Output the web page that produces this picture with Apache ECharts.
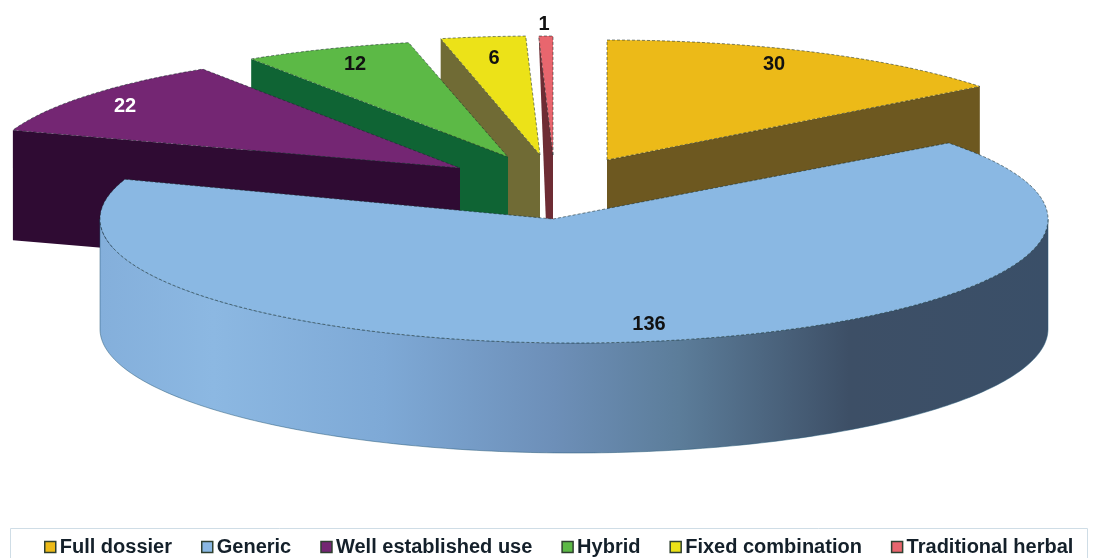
<!DOCTYPE html>
<html><head><meta charset="utf-8">
<style>html,body{margin:0;padding:0;background:#fff}#c{width:1100px;height:558px;filter:blur(0.6px)}</style>
<script src="https://cdn.jsdelivr.net/npm/echarts@6/dist/echarts.min.js"></script>
</head><body><div id="c"></div>
<script>
var categories = ['Full dossier','Generic','Well established use','Hybrid','Fixed combination','Traditional herbal'];
var values = [30,136,22,12,6,1];

var topColors  = ['#ecba18','#8ab8e3','#742673','#5cb946','#ece218','#e8666e'];
var wallColors = ['#6d5820','#5a7da0','#2f0b33','#0f6434','#706b35','#6e2c34'];
var labelColors= ['#111','#111','#fff','#111','#111','#111'];
// exploded position of every slice: centre of its ellipse, tip of the wedge, radii, extrusion
var layout = [
  {cx:607,cy:160,tx:607,ty:160,rx:472,ry:120,depth:110,shift:0,face:'end',  lx:774,ly:64,z:5},
  {cx:574,cy:219,tx:553,ty:219,rx:474,ry:124,depth:110,shift:0,face:'round',lx:649,ly:324,z:6},
  {cx:460,cy:168,tx:460,ty:168,rx:472,ry:118,depth:110,shift:0,face:'start',lx:125,ly:106,z:4},
  {cx:508,cy:157,tx:508,ty:157,rx:471,ry:117,depth:110,shift:0,face:'start',lx:355,ly:64,z:3},
  {cx:540,cy:155,tx:540,ty:155,rx:471,ry:119,depth:110,shift:0,face:'start',lx:494,ly:58,z:2},
  {cx:553,cy:155,tx:553,ty:155,rx:471,ry:119,depth:180,shift:7,face:'start',lx:544,ly:24,z:1}
];

var total = values.reduce(function(a,b){return a+b;},0);
var starts = [], acc = 0;
values.forEach(function(v){ starts.push(acc/total*Math.PI*2); acc += v; });

function pt(l,a,dy){ return [l.cx+l.rx*Math.sin(a), l.cy-l.ry*Math.cos(a)+(dy||0)]; }
function arc(l,a0,a1,dy){
  var n = Math.max(2,Math.ceil(Math.abs(a1-a0)*60)), out=[];
  for(var i=0;i<=n;i++) out.push(pt(l,a0+(a1-a0)*i/n,dy));
  return out;
}
var edge = {stroke:'rgba(20,40,40,0.55)',lineWidth:1,lineDash:[3,2]};

function renderSlice(idx){
  return function(params,api){
    var l = layout[idx], v = api.value(0);
    var a0 = starts[idx], a1 = a0 + v/total*Math.PI*2;
    var kids = [];
    if(l.face==='round'){
      var pts = arc(l,Math.PI/2,Math.PI*1.5).concat(arc(l,Math.PI*1.5,Math.PI/2,l.depth));
      kids.push({type:'polygon',shape:{points:pts},style:{
        fill:{type:'linear',x:0,y:0,x2:1,y2:0,colorStops:[
          {offset:0,color:'#84afdb'},{offset:0.12,color:'#8cb8e2'},{offset:0.3,color:'#7ea9d6'},
          {offset:0.48,color:'#6d8fb8'},{offset:0.61,color:'#5c7d9a'},{offset:0.79,color:'#3d4f66'},
          {offset:1,color:'#3a4f68'}]},
        stroke:'rgba(40,90,120,0.5)',lineWidth:1}});
    } else {
      var a = l.face==='start'?a0:a1, c = pt(l,a);
      kids.push({type:'polygon',shape:{points:[
        c,[l.tx,l.ty],[l.tx,l.ty+l.depth],[c[0]+l.shift,c[1]+l.depth]]},
        style:{fill:wallColors[idx]}});
    }
    var top = [[l.tx,l.ty]].concat(arc(l,a0,a1));
    kids.push({type:'polygon',shape:{points:top},style:Object.assign({fill:topColors[idx]},edge)});
    kids.push({type:'text',style:{x:l.lx,y:l.ly,text:String(v),fill:labelColors[idx],
      font:'bold 20px "Liberation Sans",Arial,sans-serif',align:'center',verticalAlign:'middle'}});
    return {type:'group',children:kids};
  };
}

var series = categories.map(function(name,i){
  return {type:'custom',name:name,coordinateSystem:'none',z:layout[i].z+1,
    silent:true,animation:false,clip:false,
    itemStyle:{color:topColors[i]},
    data:[[values[i]]],renderItem:renderSlice(i)};
});

var chart = echarts.init(document.getElementById('c'),null,{renderer:'canvas'});
chart.setOption({
  animation:false,
  backgroundColor:'#fff',
  graphic:[{type:'rect',z:0,shape:{x:10.5,y:528.5,width:1077,height:40},style:{fill:'#fff',stroke:'#cfdde6',lineWidth:1}}],
  legend:{
    show:true,data:categories,left:39,top:532,itemWidth:11,itemHeight:11,itemGap:29,icon:'rect',
    selectedMode:false,
    itemStyle:{borderColor:'#2f4030',borderWidth:1.5},
    textStyle:{fontFamily:'"Liberation Sans",Arial,sans-serif',fontWeight:'bold',fontSize:20,color:'#14202a',padding:[0,0,0,-1]}
  },
  series:series
});
</script></body></html>
